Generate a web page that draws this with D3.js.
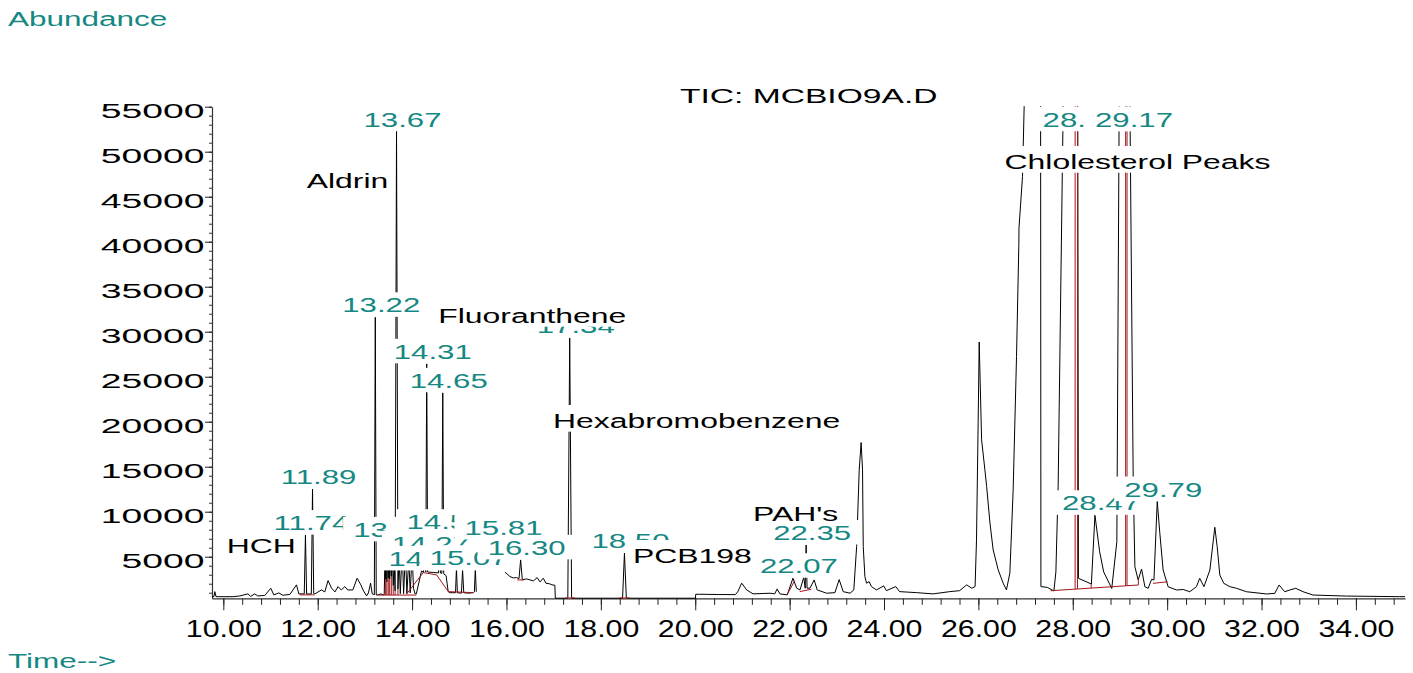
<!DOCTYPE html>
<html>
<head>
<meta charset="utf-8">
<script src="https://cdn.jsdelivr.net/npm/d3@7"></script>
<style>
  html, body { margin: 0; padding: 0; background: #fff; }
  svg { display: block; font-family: "Liberation Sans", Arial, sans-serif; }
</style>
</head>
<body>
<svg id="chart" width="1413" height="673"></svg>
<script>
// ---- data -------------------------------------------------------------
// Tick values of the two axes
const timeTicks = [10, 12, 14, 16, 18, 20, 22, 24, 26, 28, 30, 32, 34];
const abundanceTicks = [5000, 10000, 15000, 20000, 25000, 30000, 35000, 40000, 45000, 50000, 55000];

// Total ion chromatogram: [retention time (min), abundance]; null marks a gap in the record
const trace = [
  [9.76,560],[9.80,560],[9.82,1120],[9.845,560],[10.20,560],[10.35,640],[10.52,870],[10.58,590],
  [10.665,870],[10.73,640],[10.88,700],[11.005,1500],[11.07,760],[11.175,980],[11.26,720],[11.41,810],
  [11.55,1870],[11.60,870],[11.715,870],[11.74,7400],[11.765,860],[11.865,860],[11.89,12500],[11.915,900],
  [11.94,870],[12.08,1310],[12.15,1090],[12.22,2350],[12.29,1530],[12.365,1090],[12.43,1680],[12.50,1310],
  [12.575,1680],[12.635,1310],[12.745,1310],[12.835,2610],[12.915,1870],[12.96,1310],[13.035,645],[13.075,980],
  [13.12,2060],[13.155,870],[13.20,780],[13.22,31600],[13.24,750],[13.28,760],[13.34,870],[13.39,760],
  [13.41,800],[13.425,5200],[13.44,2500],[13.45,6650],[13.465,2200],[13.48,5800],[13.495,2600],[13.51,6000],
  [13.525,2500],[13.545,5000],[13.56,2800],[13.58,5500],[13.60,1800],[13.62,4500],[13.64,1200],[13.67,52300],
  [13.70,1400],[13.725,5000],[13.75,900],[13.79,5800],[13.82,900],[13.86,5500],[13.89,900],[13.93,4800],
  [13.96,1000],[14.00,5300],[14.03,1500],[14.06,900],[14.09,870],[14.20,3420],[14.24,3250],[14.27,5100],
  [14.29,3300],[14.31,26430],[14.33,3300],[14.45,3250],[14.56,3200],[14.58,7500],[14.60,3200],[14.63,3150],
  [14.65,23210],[14.67,3100],[14.72,2900],[14.765,1120],[14.80,1000],[14.92,1000],[14.94,3700],[14.96,1000],
  [15.045,950],[15.07,3500],[15.095,1000],[15.20,950],[15.30,1010],[15.32,1100],[15.34,3700],[15.36,1100],
  [15.36,null],[15.81,6870],[15.96,null],
  [15.97,3280],[16.075,2790],[16.145,2645],[16.215,2680],[16.265,2560],[16.30,4650],[16.335,2450],[16.43,2530],
  [16.57,2310],[16.65,2680],[16.71,2200],[16.78,2610],[16.835,2060],[16.92,1980],[16.965,1870],[17.025,1830],
  [17.035,390],[17.29,390],[17.30,420],[17.34,29300],[17.38,420],[17.39,390],[18.45,390],[18.46,420],
  [18.50,5400],[18.54,420],[18.55,390],[20.005,390],[20.01,830],[20.10,830],[20.50,800],[20.85,790],
  [20.90,1100],[20.985,2060],[21.09,1310],[21.225,870],[21.585,945],[21.685,870],[21.735,1420],[21.795,870],
  [21.95,760],[22.07,2610],[22.15,1500],[22.22,1310],[22.30,2720],[22.33,1500],[22.35,6300],[22.37,1500],
  [22.43,1500],[22.52,2420],[22.585,1310],[22.785,945],[22.96,1010],[23.05,2460],[23.135,1120],[23.28,945],
  [23.36,1310],[23.42,6125],[23.475,14650],[23.515,17690],[23.545,14650],[23.56,6125],[23.595,2790],[23.63,2060],
  [23.685,2230],[23.735,1680],[23.84,1310],[23.995,1760],[24.05,1230],[24.25,1680],[24.33,1120],[24.685,1010],
  [25.04,870],[25.395,1120],[25.605,1230],[25.75,1870],[25.86,1500],[25.93,1680],[25.96,6870],[25.995,19880],
  [26.017,28850],[26.068,17990],[26.138,14650],[26.175,12800],[26.245,8760],[26.313,5760],[26.42,3535],[26.525,2060],
  [26.595,1310],[26.667,3200],[26.737,12430],[26.808,27250],[26.857,39660],[26.86,41500],[26.935,47260],[26.97,55040],
  [27.05,85000],[27.15,98000],[27.25,80000],[27.318,58000],[27.325,1680],[27.462,1590],[27.60,1190],[27.642,3300],
  [27.69,12780],[27.797,55000],[28.06,98000],[28.105,60000],[28.12,2600],[28.394,1970],[28.47,9600],[28.57,5540],
  [28.655,3310],[28.826,1470],[28.934,6670],[28.983,55000],[29.17,110000],[29.21,56000],[29.28,13890],[29.316,3890],
  [29.386,2410],[29.458,3630],[29.528,1670],[29.598,1490],[29.67,2490],[29.72,2410],[29.79,11130],[29.845,7600],
  [29.915,3520],[30.02,1670],[30.20,1300],[30.34,1360],[30.48,1110],[30.62,1670],[30.69,2600],[30.78,1670],
  [30.905,3520],[31.01,8270],[31.06,6110],[31.116,2970],[31.20,2040],[31.33,1670],[31.47,1490],[31.68,1110],
  [32.107,860],[32.28,930],[32.373,1860],[32.49,1110],[32.60,1300],[32.725,1490],[32.88,1110],[33.093,740],
  [33.80,630],[34.93,560],[35.04,560]
];

// Integration baselines: each is a polyline of [time, abundance]
const integrationBaselines = [
  [[11.62,760],[11.93,760]],
  [[13.28,740],[14.09,740]],
  [[13.886,870],[14.237,3240],[14.52,2980],[14.767,1120],[15.297,1010]],
  [[16.23,2420],[16.37,2420]],
  [[17.25,420],[17.45,420]],
  [[18.40,420],[18.61,420]],
  [[21.945,760],[22.107,2350]],
  [[22.214,1120],[22.462,1390]],
  [[27.53,1220],[29.39,1860]],
  [[29.70,2040],[30.01,2220]]
];

// Peak drop lines: [time, abundance at base, abundance at top]
const dropLines = [
  [13.44,740,2500],[13.465,740,2200],[13.495,740,2600],[13.525,740,2500],[13.56,740,2800],
  [13.60,740,1800],[13.64,740,1200],[13.70,740,1400],
  [28.05,1400,98000],[28.10,1420,98000],[28.39,1510,2000],
  [29.12,1760,110000],[29.15,1770,110000],[29.39,1860,2600]
];

// Integrated peaks labelled with their retention time: [time, apex abundance] (drawing order)
const labelledPeaks = [
  [11.74,7400],[11.89,12500],[13.67,52300],[13.22,31600],[14.31,26430],[14.65,23210],
  [13.45,6650],[14.58,7500],[14.27,5100],[14.20,3420],[15.07,3500],[15.81,6870],[16.30,4650],
  [17.34,29300],[18.50,5400],[22.07,2610],[22.35,6300],[28.06,98000],[29.17,110000],
  [28.47,9600],[29.79,11130]
];

// Compound annotations and the [time, abundance] where each name starts
const compoundNames = ["HCH", "Aldrin", "Fluoranthene", "Hexabromobenzene", "PCB198", "PAH's", "Chlolesterol Peaks"];
const compoundTime = [10.072, 11.767, 14.555, 16.986, 18.681, 21.224, 26.554];
const compoundAbundance = [5380, 45930, 30935, 19270, 4270, 9000, 48045];

// ---- drawing ----------------------------------------------------------
const TEAL = "#168883";
const RED = "#a3161c";
const svg = d3.select("#chart");

const x = d3.scaleLinear().domain([9.76, 35.04]).range([212, 1405]);
const y = d3.scaleLinear().domain([380, 55000]).range([598.3, 106.7]);

// horizontally stretched text, optionally on a white box
function label(parent, str, px, py, o) {
  const g = parent.append("g")
    .attr("transform", `translate(${px},${py}) scale(${o.sx},1)`);
  const rect = o.box ? g.append("rect").attr("fill", "#fff") : null;
  const t = g.append("text")
    .attr("x", 0).attr("y", 0)
    .attr("text-anchor", o.anchor || "start")
    .attr("font-size", o.size)
    .attr("fill", o.color)
    .text(str);
  if (rect) {
    const w = t.node().getComputedTextLength();
    const x0 = o.anchor === "middle" ? -w / 2 : 0;
    const pad = o.pad / o.sx;
    rect.attr("x", x0 - pad).attr("width", w + 2 * pad)
        .attr("y", -o.above).attr("height", o.above + o.below);
  }
  return g;
}

// x axis: minor and major ticks
const minorTimes = d3.range(10, 34.95, 0.4);
svg.append("g")
  .attr("transform", `translate(0,${y.range()[0]})`)
  .call(d3.axisBottom(x).tickValues(minorTimes).tickSize(6.5).tickSizeOuter(0).tickFormat(""))
  .call(g => g.select(".domain").remove())
  .selectAll("line").attr("stroke", "#222");

const xAxis = svg.append("g")
  .attr("transform", `translate(0,${y.range()[0]})`)
  .call(d3.axisBottom(x).tickValues(timeTicks).tickSize(12).tickSizeOuter(0).tickFormat(d3.format(".2f")));
xAxis.select(".domain").attr("stroke", "#333").attr("stroke-width", 1.2);
xAxis.selectAll("line").attr("stroke", "#222");
xAxis.selectAll("text")
  .attr("y", 39.2).attr("dy", null)
  .attr("font-size", 23.7)
  .attr("font-family", "Liberation Sans, Arial, sans-serif")
  .attr("fill", "#000")
  .attr("transform", "scale(1.28,1)");

// y axis: minor and major ticks
const minorAbund = d3.range(1000, 55001, 1000);
svg.append("g")
  .attr("transform", `translate(${x.range()[0]},0)`)
  .call(d3.axisLeft(y).tickValues(minorAbund).tickSize(3).tickSizeOuter(0).tickFormat(""))
  .call(g => g.select(".domain").remove())
  .selectAll("line").attr("stroke", "#333");

const yAxis = svg.append("g")
  .attr("transform", `translate(${x.range()[0]},0)`)
  .call(d3.axisLeft(y).tickValues(abundanceTicks).tickSize(7).tickSizeOuter(0).tickFormat(d3.format("d")));
yAxis.select(".domain").attr("stroke", "#333").attr("stroke-width", 1.2);
yAxis.selectAll("line").attr("stroke", "#222");
yAxis.selectAll("text")
  .attr("x", 0).attr("y", 0).attr("dy", null)
  .attr("font-size", 20.4)
  .attr("font-family", "Liberation Sans, Arial, sans-serif")
  .attr("fill", "#000")
  .attr("text-anchor", "end")
  .attr("transform", "translate(-7.5,10.6) scale(1.83,1)");

// plot area clip
svg.append("clipPath").attr("id", "plot")
  .append("rect").attr("x", 212).attr("y", 106).attr("width", 1195).attr("height", 494);

const plot = svg.append("g").attr("clip-path", "url(#plot)");

// chromatogram
const line = d3.line()
  .defined(d => d[1] !== null)
  .x(d => x(d[0]))
  .y(d => y(d[1]));

plot.append("path")
  .datum(trace)
  .attr("fill", "none")
  .attr("stroke", "#000")
  .attr("stroke-width", 1)
  .attr("stroke-linejoin", "round")
  .attr("d", line);

// integration baselines and drop lines
plot.selectAll("path.base")
  .data(integrationBaselines)
  .join("path")
  .attr("class", "base")
  .attr("fill", "none")
  .attr("stroke", RED)
  .attr("stroke-width", 1)
  .attr("d", d3.line().x(d => x(d[0])).y(d => y(d[1])));

plot.selectAll("line.drop")
  .data(dropLines)
  .join("line")
  .attr("class", "drop")
  .attr("x1", d => x(d[0])).attr("x2", d => x(d[0]))
  .attr("y1", d => y(d[1])).attr("y2", d => y(d[2]))
  .attr("stroke", RED)
  .attr("stroke-width", 1);

// retention-time labels above each integrated peak
const labelCap = 52220;
const fmtRT = d3.format(".2f");
const labels = svg.append("g");
labelledPeaks.forEach(([t, a]) => {
  label(labels, fmtRT(t), x(t) + 6, y(Math.min(a, labelCap)) - 5,
    { sx: 1.485, size: 21, color: TEAL, anchor: "middle", box: true, above: 20, below: 4.5, pad: 10 });
});

// compound annotations
const names = svg.append("g");
compoundNames.forEach((n, i) => {
  label(names, n, x(compoundTime[i]), y(compoundAbundance[i]),
    { sx: 1.52, size: 21, color: "#000", anchor: "start", box: true, above: 23.3, below: 3.4, pad: 4 });
});

// titles
label(svg, "Abundance", 8, 26, { sx: 1.5, size: 21, color: TEAL });
label(svg, "Time-->", 8, 668, { sx: 1.5, size: 21, color: TEAL });
label(svg, "TIC: MCBIO9A.D", 680, 103, { sx: 1.6, size: 21, color: "#000" });
</script>
</body>
</html>
